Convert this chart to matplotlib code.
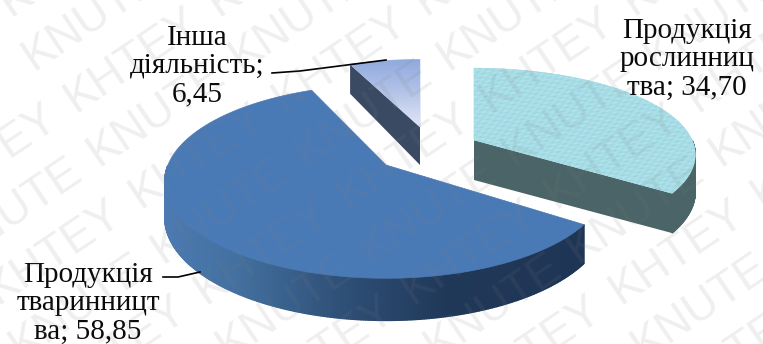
import numpy as np
import matplotlib
matplotlib.use("Agg")
import matplotlib.pyplot as plt
from matplotlib.colors import LinearSegmentedColormap
from matplotlib.patches import Polygon

# Shares of sales by activity, percent
categories = ["Продукція рослинництва", "Продукція тваринництва", "Інша діяльність"]
shares = [34.70, 58.85, 6.45]
label_lines = [
    "Продукція\nрослинниц\nтва; 34,70",
    "Продукція\nтваринницт\nва; 58,85",
    "Інша\nдіяльність;\n6,45",
]
watermark_words = ["KHTEY", "KNUTE"]

W, H = 763, 344
fig = plt.figure(figsize=(W / 100, H / 100), dpi=100, facecolor="white")
ax = fig.add_axes([0, 0, 1, 1])
ax.set_xlim(0, W)
ax.set_ylim(H, 0)
ax.axis("off")

# Exploded wedge placement on the canvas: apex, horizontal and vertical radius, rim height
apex = [(474, 140), (386, 165), (420, 127)]
radius_x = [218, 218, 205]
radius_y = [84, 94, 79]
rim = [40, 39, 38]
PERSPECTIVE = 0.17

TOP_BLUE = "#4a7ab6"
RIM_GREEN = "#4a6468"
RIM_SLATE = "#3b4a63"
blue_rim = LinearSegmentedColormap.from_list(
    "blue_rim", [(0, "#4c7ab2"), (0.18, "#43709f"), (0.42, "#2f5078"),
                 (0.68, "#203858"), (1, "#1f3556")])


def outline(idx, theta):
    """Project clockwise-from-north angles (degrees) onto the tilted disc of a wedge."""
    t = np.radians(theta)
    s = -np.cos(t)
    w = 1 - PERSPECTIVE * s
    ax0, ay0 = apex[idx]
    return ax0 + radius_x[idx] * np.sin(t) / w, ay0 + radius_y[idx] * s / w, w


def rim_height(idx, w):
    return rim[idx] / w * (1 - PERSPECTIVE * 0.6)


def draw_wedge(idx, a0, a1, top_face, rim_colour, wall_end=None, wall_colour=None):
    theta = np.linspace(a0, a1, 400)
    x, y, w = outline(idx, theta)
    ax0, ay0 = apex[idx]
    d = rim_height(idx, w)
    d0 = rim[idx]
    # radial side wall on the edge that faces the viewer
    if wall_end is not None:
        ax.add_patch(Polygon([(ax0, ay0), (x[wall_end], y[wall_end]),
                              (x[wall_end], y[wall_end] + d[wall_end]), (ax0, ay0 + d0)],
                             closed=True, fc=wall_colour, ec="none", zorder=2))
    # curved outer wall on the near half of the disc, built from narrow quads
    near = np.where(-np.cos(np.radians(theta)) > 0.0)[0]
    for i in near[:-1]:
        col = rim_colour(0.5 * (x[i] + x[i + 1]))
        ax.add_patch(Polygon([(x[i], y[i]), (x[i + 1], y[i + 1]),
                              (x[i + 1], y[i + 1] + d[i + 1]), (x[i], y[i] + d[i])],
                             closed=True, fc=col, ec=col, lw=1.0, zorder=3))
    top = Polygon(np.column_stack([np.r_[ax0, x], np.r_[ay0, y]]), closed=True,
                  fc=top_face, ec=top_face, lw=0.5, zorder=4)
    ax.add_patch(top)
    return top


angle = 0.0
spans = []
for share in shares:
    spans.append((angle, angle + share * 3.6))
    angle += share * 3.6

# Crop wedge: water-like pale turquoise surface
top = draw_wedge(0, *spans[0], "#a8dde6", lambda _: RIM_GREEN, wall_end=-1, wall_colour=RIM_GREEN)
yy, xx = np.mgrid[40:200:320j, 460:700:480j]
ripple = (np.sin(0.37 * xx + 1.9 * yy) + np.sin(0.91 * xx + 0.73 * yy + 1.3)
          + np.sin(0.19 * xx - 1.37 * yy + 0.4) + np.sin(1.43 * xx + 3.1 * yy))
water = LinearSegmentedColormap.from_list("water", ["#8fd0dc", "#a8dde6", "#bde8ef"])
im = ax.imshow(ripple, extent=(460, 700, 200, 40), cmap=water, aspect="auto", zorder=4.5,
               interpolation="bilinear")
im.set_clip_path(top)

# Livestock wedge: solid blue top and a rim that darkens to the right
draw_wedge(1, *spans[1], TOP_BLUE, lambda px: blue_rim((px - 162) / (582 - 162)))

# Other activity: small wedge with a soft vertical fade
top = draw_wedge(2, *spans[2], "#b4c4e8", lambda _: RIM_SLATE, wall_end=0, wall_colour=RIM_SLATE)
fade = LinearSegmentedColormap.from_list("fade", ["#8ca6dc", "#b4c4e8", "#e6eaf7"])
im = ax.imshow(np.linspace(0, 1, 128).reshape(-1, 1), extent=(340, 425, 130, 55), cmap=fade,
               aspect="auto", zorder=4.5)
im.set_clip_path(top)
ax.set_xlim(0, W)
ax.set_ylim(H, 0)

# Leader lines
ax.plot([272, 300, 386], [73, 71, 60], color="black", lw=1.2, zorder=6)
ax.plot([163, 178, 200], [277, 277, 272], color="black", lw=1.2, zorder=6)

# Data labels
label_pos = [(687, 59), (88, 303), (197, 66)]
for text, (lx, ly) in zip(label_lines, label_pos):
    ax.text(lx, ly, text, family="Liberation Serif", fontsize=21, color="#0a0a0a",
            ha="center", va="center", multialignment="center", linespacing=1.12, zorder=7)

# Diagonal repeated watermark over everything
ANGLE = 34.0
along = np.array([np.cos(np.radians(ANGLE)), -np.sin(np.radians(ANGLE))])
across = np.array([np.sin(np.radians(ANGLE)), np.cos(np.radians(ANGLE))])
origin = np.array([620.0, 305.0])
ROW_STEP, WORD_STEP = 58, 172
for r in range(-10, 6):
    word = watermark_words[r % 2]
    for c in range(-6, 8):
        px, py = origin + r * ROW_STEP * across + (c * WORD_STEP + (r % 2) * -12) * along
        if -80 < px < W + 80 and -80 < py < H + 80:
            ax.text(px, py, word, family="Liberation Sans", fontsize=33, color="#7f7f7f",
                    alpha=0.12, rotation=ANGLE, rotation_mode="anchor", ha="left",
                    va="baseline", zorder=8, clip_on=True)

fig.savefig("out.png", dpi=100, facecolor="white")
